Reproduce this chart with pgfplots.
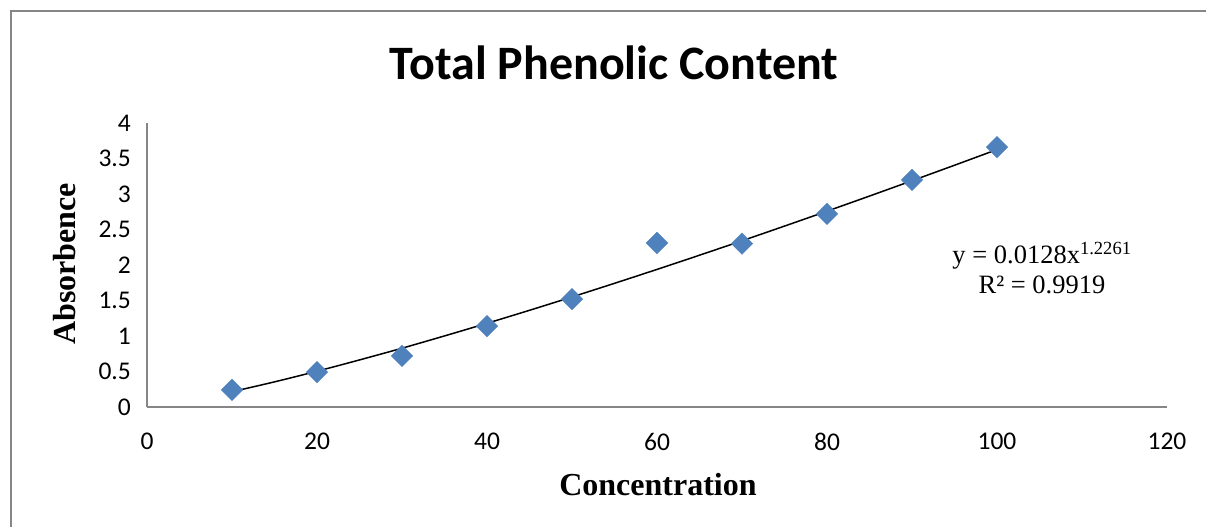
\documentclass[border=0pt]{standalone}
\usepackage{fontspec}
\setmainfont{Carlito}
\newfontfamily\timesfont{Liberation Serif}
\usepackage{pgfplots}
\pgfplotsset{compat=1.18}
\definecolor{excelblue}{HTML}{4F81BD}
\definecolor{axisgray}{HTML}{868686}
\begin{document}
\begin{tikzpicture}[x=1pt,y=1pt]
\useasboundingbox (0,0) rectangle (1206,527);
\draw[axisgray, line width=1.5pt] (11,0) -- (11,516) -- (1206,516);
\begin{axis}[
  at={(147pt,120pt)}, anchor=south west,
  scale only axis, width=1020pt, height=284pt,
  xmin=0, xmax=120, ymin=0, ymax=4,
  axis lines*=left,
  axis line style={axisgray, line width=1.3pt},
  xtick={0,20,...,120}, ytick={0,0.5,...,4},
  major tick length=0pt,
  /pgf/number format/assume math mode=true,
  tick label style={font=\fontsize{25.5}{25.5}\selectfont, inner sep=0pt},
  xticklabel style={yshift=-26pt},
  yticklabel style={xshift=-16pt},
  clip=false,
]
\addplot[black, line width=1.5pt, smooth] coordinates {
(10,0.2154) (15,0.354) (20,0.504) (25,0.663) (30,0.828) (35,1.001) (40,1.179)
(45,1.362) (50,1.550) (55,1.742) (60,1.938) (65,2.138) (70,2.341) (75,2.548)
(80,2.758) (85,2.971) (90,3.187) (95,3.405) (100,3.626)};
\addplot[only marks, mark=square*, mark size=7.6pt, mark options={rotate=45, fill=excelblue, draw=excelblue}] coordinates {
(10,0.24) (20,0.49) (30,0.72) (40,1.14) (50,1.52) (60,2.31) (70,2.30) (80,2.72) (90,3.20) (100,3.66)};
\end{axis}
\node[font=\bfseries\fontsize{48}{48}\selectfont] at (614,464) {Total Phenolic Content};
\node[font=\timesfont\bfseries\fontsize{32}{32}\selectfont] at (658,42) {Concentration};
\node[font=\timesfont\bfseries\fontsize{32}{32}\selectfont, rotate=90] at (65,263) {Absorbence};
\node[font=\timesfont\fontsize{26.5}{30}\selectfont, align=center] at (1042,259) {y = 0.0128x\textsuperscript{1.2261}\\R² = 0.9919};
\end{tikzpicture}
\end{document}
